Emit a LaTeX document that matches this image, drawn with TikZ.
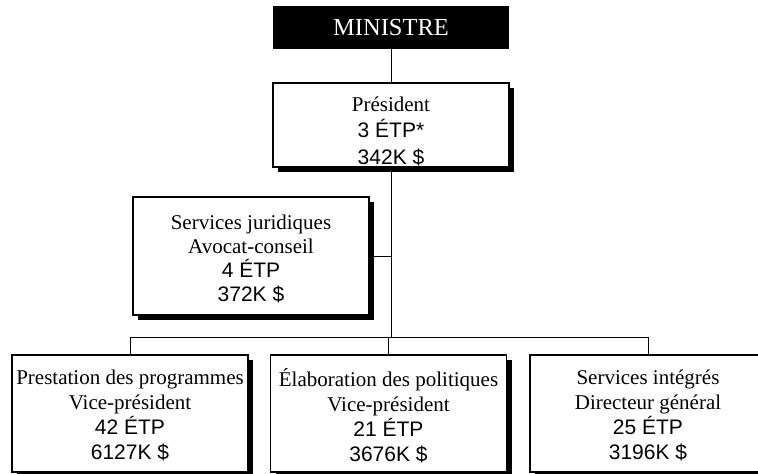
\documentclass[tikz,border=0pt]{standalone}
\usepackage{fontspec}
\setmainfont{Liberation Serif}
\newfontfamily\arialf{Liberation Sans}
\usetikzlibrary{shadows}
\newcommand{\sa}[1]{{\arialf #1}}
\begin{document}
\begin{tikzpicture}[x=1pt,y=-1pt,
  orgbox/.style={draw=black, line width=1.6pt, fill=white, minimum width=236pt,
    inner sep=0pt,
    drop shadow={shadow xshift=5pt, shadow yshift=-5pt, fill=black, opacity=1}},
  orgtext/.style={align=center, inner sep=0pt},
  conn/.style={draw=black, line width=0.9pt}]
\useasboundingbox (0,0) rectangle (758,474);
\clip (0,0) rectangle (758,474);
\node[fill=black, text=white, minimum width=236pt, minimum height=43pt, inner sep=0pt,
  font=\fontsize{24.5}{26}\selectfont] (min) at (391,27.5) {MINISTRE};
\node[orgbox, minimum height=84pt] (pres) at (391,125) {};
\node[orgtext, font=\fontsize{21}{26.5}\selectfont] (presT) at (391,131)
  {Président\\\sa{3 ÉTP*}\\\sa{342K \$}};
\node[orgbox, minimum height=118pt] (legal) at (251,256) {};
\node[orgtext, font=\fontsize{21}{24}\selectfont] (legalT) at (251,258.5)
  {Services juridiques\\Avocat-conseil\\\sa{4 ÉTP}\\\sa{372K \$}};
\node[orgbox, minimum height=117pt] (b1) at (130,413.5) {};
\node[orgtext, font=\fontsize{21}{25}\selectfont] (b1T) at (130,415.5)
  {Prestation des programmes\\Vice-président\\\sa{42 ÉTP}\\\sa{6127K \$}};
\node[orgbox, minimum height=117pt] (b2) at (388.5,413.5) {};
\node[orgtext, font=\fontsize{21}{25}\selectfont] (b2T) at (388.5,415.5)
  {Élaboration des politiques\\Vice-président\\\sa{21 ÉTP}\\\sa{3676K \$}};
\node[orgbox, minimum height=117pt] (b3) at (648,413.5) {};
\node[orgtext, font=\fontsize{21}{25}\selectfont] (b3T) at (648,415.5)
  {Services intégrés\\Directeur général\\\sa{25 ÉTP}\\\sa{3196K \$}};
\coordinate (bus) at (391,337);
\draw[conn] (min.south) -- (pres.north);
\draw[conn] (pres.south) -- (pres.south |- bus);
\draw[conn] (legal.east) -- (legal.east -| pres.south);
\draw[conn] (b1.north |- bus) -- (b3.north |- bus);
\draw[conn] (b1.north) -- (b1.north |- bus);
\draw[conn] (b2.north) -- (b2.north |- bus);
\draw[conn] (b3.north) -- (b3.north |- bus);
\end{tikzpicture}
\end{document}
